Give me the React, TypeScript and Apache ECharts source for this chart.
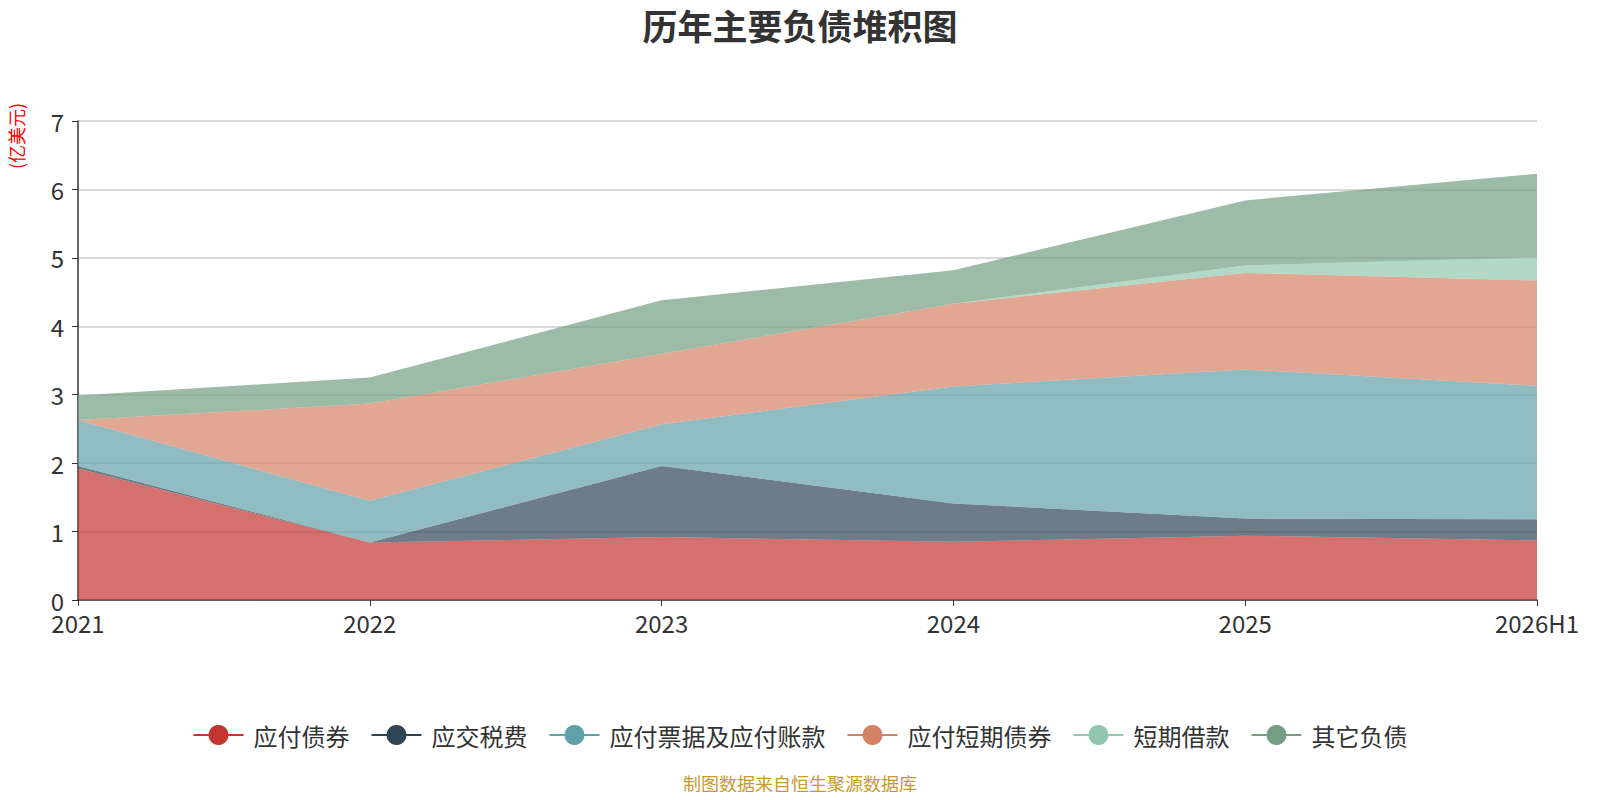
import React, { useEffect, useRef } from "react";
import * as echarts from "echarts";

const categories = ["2021", "2022", "2023", "2024", "2025", "2026H1"];
const bondsPayable = [1.92, 0.84, 0.92, 0.85, 0.94, 0.87];
const taxesPayable = [0.04, 0.0, 1.04, 0.56, 0.25, 0.31];
const notesAndAccountsPayable = [0.67, 0.61, 0.61, 1.71, 2.18, 1.95];
const shortTermBondsPayable = [0.0, 1.42, 1.03, 1.21, 1.41, 1.54];
const shortTermBorrowings = [0.0, 0.0, 0.0, 0.0, 0.11, 0.34];
const otherLiabilities = [0.36, 0.38, 0.78, 0.49, 0.95, 1.22];
const yTicks = [0, 1, 2, 3, 4, 5, 6, 7];

const seriesNames = ["应付债券", "应交税费", "应付票据及应付账款", "应付短期债券", "短期借款", "其它负债"];
const seriesData = [bondsPayable, taxesPayable, notesAndAccountsPayable, shortTermBondsPayable, shortTermBorrowings, otherLiabilities];
const colors = ["#c23531", "#2f4554", "#61a0a8", "#d48265", "#91c7ae", "#749f83"];

const FONT = '"Noto Sans CJK SC", "Noto Sans", sans-serif';

export default function App() {
  const ref = useRef<HTMLDivElement>(null);
  useEffect(() => {
    if (!ref.current) return;
    const chart = echarts.init(ref.current, undefined, { renderer: "svg" });
    chart.setOption({
      animation: false,
      color: colors,
      textStyle: { fontFamily: FONT },
      title: {
        text: "历年主要负债堆积图",
        left: "center",
        top: 2,
        textStyle: { fontSize: 35, fontWeight: "bold", color: "#333", fontFamily: FONT },
      },
      legend: {
        bottom: 48,
        left: "center",
        itemWidth: 50,
        itemHeight: 25,
        itemGap: 21,
        lineStyle: { width: 2, opacity: 1 },
        textStyle: { fontSize: 24, color: "#333", fontFamily: FONT, padding: [0, 0, 0, 5] },
        data: seriesNames,
      },
      grid: { left: 78, right: 63, top: 121, bottom: 200, containLabel: false },
      xAxis: {
        type: "category",
        boundaryGap: false,
        data: categories,
        axisLine: { lineStyle: { color: "#333", width: 1.5 } },
        axisTick: { show: true, length: 6, lineStyle: { color: "#333" } },
        axisLabel: { fontSize: 24, color: "#333", margin: 10, fontFamily: FONT },
      },
      yAxis: {
        type: "value",
        min: yTicks[0],
        max: yTicks[yTicks.length - 1],
        interval: 1,
        axisLine: { show: true, lineStyle: { color: "#333", width: 1.5 } },
        axisTick: { show: true, length: 6, lineStyle: { color: "#333" } },
        axisLabel: { fontSize: 24, color: "#333", margin: 14, fontFamily: FONT },
        splitLine: { show: true, lineStyle: { color: "#ccc", width: 1.5 } },
      },
      graphic: [
        {
          type: "text",
          x: 16,
          y: 136,
          rotation: Math.PI / 2,
          style: {
            text: "(亿美元)",
            fill: "#ff0000",
            fontSize: 18,
            fontFamily: FONT,
            align: "center",
            verticalAlign: "middle",
          },
        },
        {
          type: "text",
          left: "center",
          top: 774,
          style: {
            text: "制图数据来自恒生聚源数据库",
            fill: "#c89a2c",
            fontSize: 18,
            fontFamily: FONT,
          },
        },
      ],
      series: seriesNames.map((name, i) => ({
        name,
        type: "line",
        stack: "total",
        data: seriesData[i],
        symbol: "circle",
        symbolSize: 8,
        showSymbol: false,
        lineStyle: { width: 0 },
        areaStyle: { opacity: 0.7 },
        itemStyle: { color: colors[i] },
      })),
    });
    return () => chart.dispose();
  }, []);
  return <div ref={ref} style={{ width: 1600, height: 800, margin: -8 }} />;
}
